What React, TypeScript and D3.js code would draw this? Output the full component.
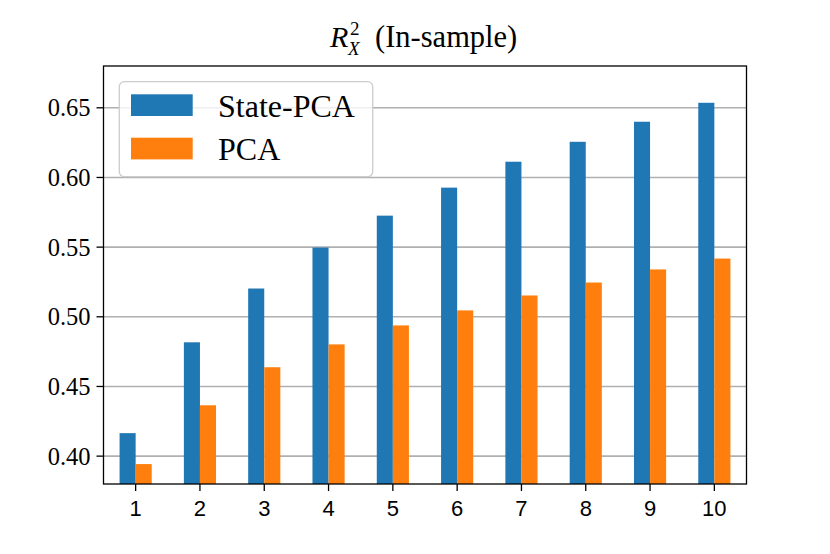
import React, { useEffect } from "react";
import * as d3 from "d3";

const categories = ["1", "2", "3", "4", "5", "6", "7", "8", "9", "10"];
const statePca = [0.4165, 0.4817, 0.5203, 0.5497, 0.5726, 0.5927, 0.6113, 0.6256, 0.64, 0.6536];
const pca = [0.3943, 0.4365, 0.4638, 0.4802, 0.4938, 0.5046, 0.5153, 0.5246, 0.534, 0.5418];
const yTicks = [0.4, 0.45, 0.5, 0.55, 0.6, 0.65];
const seriesNames = ["State-PCA", "PCA"];
const colors = ["#1f77b4", "#ff7f0e"];

const W = 830;
const H = 554;
const margin = { top: 66, right: 83.5, bottom: 70, left: 103.5 };

export default function App() {
  useEffect(() => {
    document.body.style.margin = "0";
  }, []);

  const width = W - margin.left - margin.right;
  const height = H - margin.top - margin.bottom;

  // pandas-style bar layout: categories at integer positions, xlim [-0.5, n-0.5]
  const x = d3.scaleLinear().domain([-0.5, categories.length - 0.5]).range([0, width]);
  const y = d3.scaleLinear().domain([0.38, 0.68]).range([height, 0]);
  const barW = x(0.25) - x(0);
  const series = [statePca, pca];

  const serif = "'Liberation Serif', 'Times New Roman', serif";
  const sans = "'Liberation Sans', Arial, sans-serif";
  const cx = margin.left + width / 2;

  return (
    <svg width={W} height={H} style={{ display: "block", background: "#fff" }}>
      {/* title: R^2_X (In-sample) */}
      <g fontFamily={serif} fill="#000">
        <text x={cx - 95} y={46.7} fontSize={30} fontStyle="italic">R</text>
        <text x={cx - 75} y={35} fontSize={19}>2</text>
        <text x={cx - 77} y={54.5} fontSize={19} fontStyle="italic">X</text>
        <text x={cx - 50} y={46.7} fontSize={30.5}>(In-sample)</text>
      </g>

      <g transform={`translate(${margin.left},${margin.top})`}>
        {/* grid */}
        {yTicks.map((t) => (
          <line key={`g${t}`} x1={0} x2={width} y1={y(t)} y2={y(t)} stroke="#b0b0b0" strokeWidth={1.6} />
        ))}

        {/* bars */}
        {series.map((vals, si) =>
          vals.map((v, i) => (
            <rect
              key={`b${si}-${i}`}
              x={x(i) - barW + si * barW}
              y={y(v)}
              width={barW}
              height={height - y(v)}
              fill={colors[si]}
            />
          ))
        )}

        {/* spines */}
        <rect x={0} y={0} width={width} height={height} fill="none" stroke="#000" strokeWidth={1.3} />

        {/* y axis */}
        {yTicks.map((t) => (
          <g key={`y${t}`} transform={`translate(0,${y(t)})`}>
            <line x1={-7} x2={0} stroke="#000" strokeWidth={1.3} />
            <text x={-13} dy="0.35em" textAnchor="end" fontFamily={serif} fontSize={24.5}>
              {d3.format(".2f")(t)}
            </text>
          </g>
        ))}

        {/* x axis */}
        {categories.map((c, i) => (
          <g key={`x${c}`} transform={`translate(${x(i)},${height})`}>
            <line y1={0} y2={7} stroke="#000" strokeWidth={1.3} />
            <text y={32} textAnchor="middle" fontFamily={sans} fontSize={22}>
              {c}
            </text>
          </g>
        ))}

        {/* legend */}
        <g transform="translate(15.8,15.7)">
          <rect x={0} y={0} width={253.4} height={95} rx={5} fill="#fff" fillOpacity={0.8} stroke="#cccccc" strokeWidth={1.3} />
          {seriesNames.map((s, i) => (
            <g key={s} transform={`translate(0,${i * 43.4})`}>
              <rect x={11.7} y={12.6} width={61.7} height={21.7} fill={colors[i]} />
              <text x={98.7} y={35} fontFamily={serif} fontSize={32}>
                {s}
              </text>
            </g>
          ))}
        </g>
      </g>
    </svg>
  );
}
